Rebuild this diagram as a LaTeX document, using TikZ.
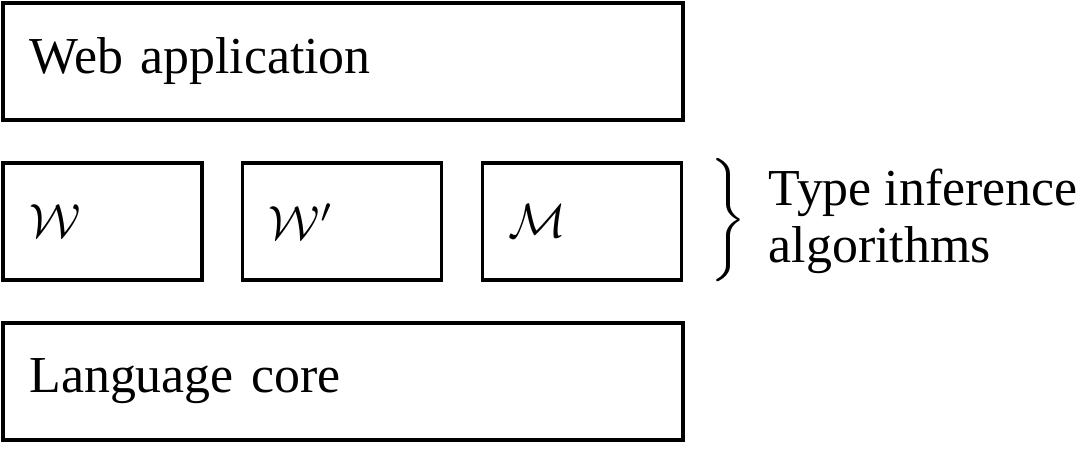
\documentclass[tikz,border=0pt]{standalone}
\usepackage{fontspec}
\setmainfont[Scale=1.08]{Liberation Serif}
\begin{document}
\begin{tikzpicture}[x=0.2083pt, y=0.2083pt, every node/.style={font=\normalsize},
  layer/.style={draw, thick, inner xsep=5.5pt, minimum height=24.4pt, align=left}]
\useasboundingbox (0,0) rectangle (1084,448);
\node[layer, minimum width=141.65pt, text width=130.65pt] (web) at (343,386.5) {Web application};
\node[layer, minimum width=41.45pt, text width=30.45pt] (w) at (102.5,226.5) {$\mathcal{W}$};
\node[layer, minimum width=41.45pt, text width=30.45pt] (wp) at (342,226.5) {$\mathcal{W}'$};
\node[layer, minimum width=41.45pt, text width=30.45pt] (m) at (582,226.5) {$\mathcal{M}$};
\node[layer, minimum width=141.65pt, text width=130.65pt] (core) at (343,66.5) {Language core};
\node[inner sep=0pt] (brace) at (726,226.5) {\scalebox{1}[1.07]{$\left.\rule[-10.2pt]{0pt}{20.4pt}\right\}$}};
\node[anchor=west, align=left, inner sep=0pt] (algs) at (768,226.5) {Type inference\\algorithms};
\end{tikzpicture}
\end{document}
